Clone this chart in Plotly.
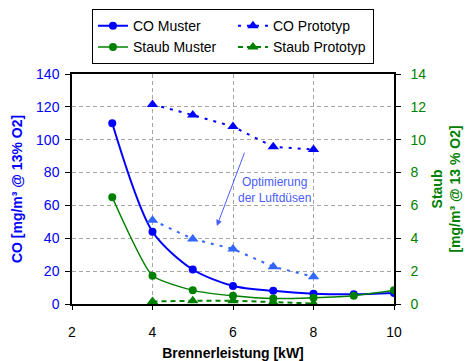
import plotly.graph_objects as go

# data
x_muster = [3, 4, 5, 6, 7, 8, 9, 10]
co_muster = [110, 44, 21, 11, 8, 6.3, 5.9, 6.7]
staub_muster = [6.5, 1.72, 0.83, 0.5, 0.33, 0.38, 0.5, 0.83]

x_proto = [4, 5, 6, 7, 8]
co_proto = [121.5, 115, 108, 95.7, 94]
co_proto_opt = [51, 39.6, 33.5, 22.7, 16.6]
staub_proto = [0.15, 0.2, 0.2, 0.1, 0.03]

x_ticks = [2, 4, 6, 8, 10]
co_ticks = [0, 20, 40, 60, 80, 100, 120, 140]
staub_ticks = [0, 2, 4, 6, 8, 10, 12, 14]

BLUE = "#0000FF"
LBLUE = "#3366FF"
GREEN = "#008000"
FONT = "Liberation Sans, Arial, sans-serif"

fig = go.Figure()
fig.add_trace(go.Scatter(x=x_muster, y=co_muster, name="CO Muster", mode="lines+markers",
                         line=dict(color=BLUE, width=2, shape="spline", smoothing=0.8),
                         marker=dict(symbol="circle", size=8, color=BLUE)))
fig.add_trace(go.Scatter(x=x_proto, y=co_proto, name="CO Prototyp", mode="lines+markers",
                         line=dict(color=BLUE, width=2, dash="3px,6px"),
                         marker=dict(symbol="triangle-up", size=10, color=BLUE)))
fig.add_trace(go.Scatter(x=x_muster, y=staub_muster, name="Staub Muster", mode="lines+markers",
                         yaxis="y2",
                         line=dict(color=GREEN, width=1.5, shape="spline", smoothing=0.5),
                         marker=dict(symbol="circle", size=8, color=GREEN)))
fig.add_trace(go.Scatter(x=x_proto, y=staub_proto, name="Staub Prototyp", mode="lines+markers",
                         yaxis="y2",
                         line=dict(color=GREEN, width=2, dash="5px,4px"),
                         marker=dict(symbol="triangle-up", size=10, color=GREEN)))
fig.add_trace(go.Scatter(x=x_proto, y=co_proto_opt, name="CO Prototyp optimiert", mode="lines+markers",
                         showlegend=False,
                         line=dict(color=LBLUE, width=2, dash="3px,6px"),
                         marker=dict(symbol="triangle-up", size=10, color=LBLUE)))

fig.add_annotation(x=7.02, y=69.5, xref="x", yref="y",
                   text="Optimierung<br>der Luftdüsen", showarrow=False,
                   font=dict(family=FONT, size=12, color="#4A5CFF"), align="center")
fig.add_annotation(x=5.6, y=47.5, ax=6.3, ay=93, xref="x", yref="y", axref="x", ayref="y",
                   text="", showarrow=True, arrowhead=2, arrowsize=1.2, arrowwidth=1,
                   arrowcolor="#4A5CFF")

grid = dict(showgrid=True, gridcolor="#A6A6A6", griddash="4px,3px", gridwidth=1)

fig.update_layout(
    width=465, height=361,
    margin=dict(l=72, r=71, t=74, b=57, autoexpand=False),
    paper_bgcolor="white", plot_bgcolor="white",
    font=dict(family=FONT, size=14, color="black"),
    showlegend=True,
    legend=dict(orientation="h", x=0.062, y=1.282, xanchor="left", yanchor="top",
                entrywidth=95, bordercolor="black", borderwidth=1, bgcolor="white",
                font=dict(family=FONT, size=14, color="black"), tracegroupgap=0,
                itemwidth=30),
    xaxis=dict(range=[2, 10], tickvals=x_ticks, ticks="outside", ticklen=4, tickcolor="black",
               showline=True, linecolor="black", linewidth=1.5, mirror=True, zeroline=False,
               tickfont=dict(size=14, color="black"), ticklabelstandoff=10,
               title=dict(text="<b>Brennerleistung [kW]</b>", font=dict(size=14, color="black"), standoff=12),
               **grid),
    yaxis=dict(range=[0, 140], tickvals=co_ticks, ticks="outside", ticklen=5, tickcolor="black",
               showline=True, linecolor="black", linewidth=1.5, zeroline=False,
               tickfont=dict(size=14, color=BLUE), ticklabelstandoff=3,
               title=dict(text="<b>CO [mg/m³ @ 13% O2]</b>", font=dict(size=14, color=BLUE), standoff=10),
               **grid),
    yaxis2=dict(range=[0, 14], tickvals=staub_ticks, overlaying="y", side="right",
                ticks="outside", ticklen=5, tickcolor="black",
                showline=True, linecolor="black", linewidth=1.5, zeroline=False, showgrid=False,
                tickfont=dict(size=14, color=GREEN), ticklabelstandoff=7,
                title=dict(text="<b>Staub<br>[mg/m³ @ 13 % O2]</b>", font=dict(size=14, color=GREEN), standoff=7)),
)

fig.write_html("out.html", config={"displayModeBar": False},
               post_script="document.body.style.margin='0';document.body.style.overflow='hidden';")
